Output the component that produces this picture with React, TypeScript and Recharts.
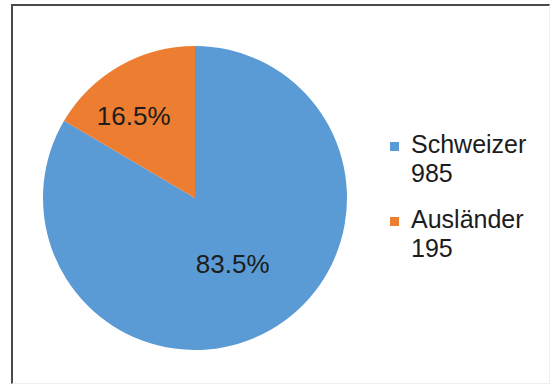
import React from "react";
import { PieChart, Pie, Cell, Legend } from "recharts";

const categories = ["Schweizer", "Ausländer"];
const counts = [985, 195];
const percentLabels = ["83.5%", "16.5%"];

const COLORS = ["#5B9BD5", "#ED7D31"];
const FONT = "Arial, 'Liberation Sans', Helvetica, sans-serif";
const RADIAN = Math.PI / 180;
// label distance from centre as a share of the radius, plus a small nudge
const LABEL_RADIUS = [0.5, 0.68];
const LABEL_NUDGE = [
  [0, 0],
  [-10, 7],
];

const data = categories.map((name, i) => ({ name, value: counts[i] }));

const renderLabel = (props: any) => {
  const { cx, cy, midAngle, outerRadius, index } = props;
  const r = outerRadius * LABEL_RADIUS[index];
  const x = cx + r * Math.cos(-midAngle * RADIAN) + LABEL_NUDGE[index][0];
  const y = cy + r * Math.sin(-midAngle * RADIAN) + LABEL_NUDGE[index][1];
  return (
    <text
      x={x}
      y={y + 9.3}
      textAnchor="middle"
      fill="#1c1c1c"
      fontSize={26}
      fontFamily={FONT}
    >
      {percentLabels[index]}
    </text>
  );
};

// legend is drawn from the category arrays so order and values stay matched
const renderLegend = () => (
  <div style={{ fontFamily: FONT, fontSize: 25, lineHeight: "29px", color: "#1c1c1c" }}>
    {categories.map((name, i) => (
      <div key={`leg-${i}`} style={{ position: "relative", paddingLeft: 21, marginBottom: 17 }}>
        <span
          style={{
            position: "absolute",
            left: 0,
            top: 12,
            width: 9,
            height: 9,
            background: COLORS[i],
          }}
        />
        <div>{name}</div>
        <div>{counts[i]}</div>
      </div>
    ))}
  </div>
);

export default function App() {
  return (
    <div style={{ position: "absolute", left: 0, top: 0, width: 552, height: 387, background: "#fff" }}>
      <div
        style={{
          position: "absolute",
          left: 11,
          top: 4,
          width: 536,
          height: 377,
          borderLeft: "2px solid #4a4a4a",
          borderTop: "2px solid #4a4a4a",
          borderRight: "1px solid #eeeeee",
          borderBottom: "1px solid #eeeeee",
        }}
      />
      <div style={{ position: "absolute", left: 0, top: 0 }}>
        <PieChart width={552} height={387} margin={{ top: 0, right: 0, bottom: 0, left: 0 }}>
          <Pie
            data={data}
            dataKey="value"
            nameKey="name"
            cx={195}
            cy={198}
            outerRadius={152}
            startAngle={90}
            endAngle={-270}
            stroke="none"
            label={renderLabel}
            labelLine={false}
            isAnimationActive={false}
          >
            {data.map((entry, index) => (
              <Cell key={`cell-${index}`} fill={COLORS[index % COLORS.length]} />
            ))}
          </Pie>
          <Legend
            layout="vertical"
            content={renderLegend}
            wrapperStyle={{ position: "absolute", left: 390, top: 130, width: 160 }}
          />
        </PieChart>
      </div>
    </div>
  );
}
